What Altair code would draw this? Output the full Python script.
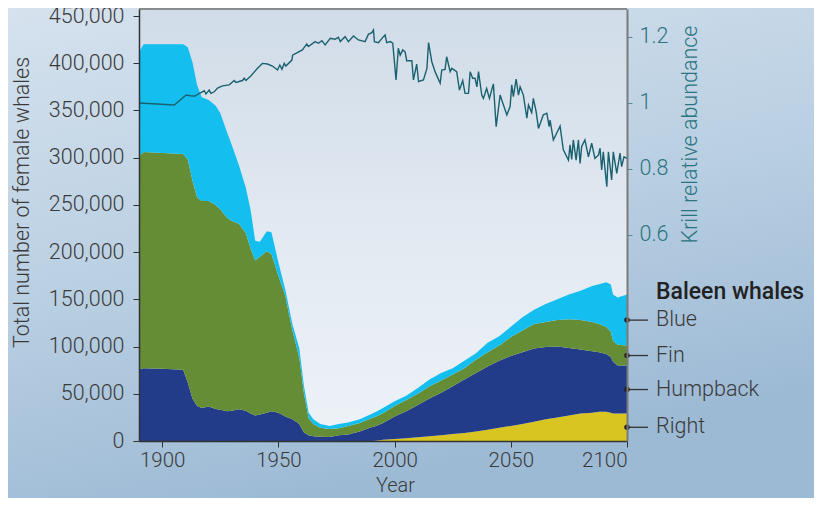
import altair as alt
import pandas as pd

# ---------------- data ----------------
years = [1890, 1892, 1900, 1909, 1911, 1913, 1915, 1917, 1920, 1923, 1925, 1928, 1930,
         1933, 1936, 1938, 1940, 1942, 1945, 1947, 1950, 1953, 1956, 1959, 1961, 1963,
         1965, 1968, 1972, 1976, 1980, 1985, 1990, 1992, 1995, 2000, 2005, 2010, 2015,
         2020, 2025, 2030, 2035, 2040, 2045, 2050, 2055, 2060, 2065, 2070, 2075, 2080,
         2085, 2088, 2091, 2093, 2094, 2096, 2100]
right = [0, 0, 0, 0, 0, 0, 0, 0, 0, 0, 0, 0, 0,
         0, 0, 0, 0, 0, 0, 0, 0, 0, 0, 0, 0, 0,
         0, 0, 0, 0, 0, 0, 0, 300, 1200, 2000, 3000, 4000, 5000,
         6000, 7500, 8500, 10000, 12000, 14000, 16000, 18000, 20500, 23000, 25000, 27000, 29000,
         30000, 31000, 31000, 30000, 29000, 29000, 29000]
humpback = [76000, 77000, 76500, 75500, 62000, 45000, 37000, 35000, 36500, 34000, 33000, 31500, 32000,
            33500, 32000, 29000, 27000, 28000, 30000, 31500, 30000, 26000, 23000, 18000, 9000, 6000,
            5000, 4500, 4200, 6000, 7000, 10000, 14500, 15700, 17800, 24000, 28500, 34000, 40000,
            45000, 50500, 56500, 62000, 67000, 71000, 74000, 76000, 77500, 76500, 75000, 71500, 68000,
            65000, 63000, 61000, 59000, 55000, 51000, 51000]
fin = [225000, 229000, 228500, 228500, 236000, 231000, 221000, 219000, 217500, 216000, 212000, 204500, 201000,
       196500, 188000, 175000, 164000, 167000, 171000, 166500, 145000, 127000, 94000, 70000, 41000, 18000,
       13000, 9500, 8400, 7500, 9000, 9000, 9500, 10000, 10500, 11000, 12000, 12000, 13000,
       13000, 12500, 12000, 14000, 15000, 16000, 20000, 23000, 26000, 26500, 28000, 30500, 31000,
       31000, 30000, 29000, 27000, 22000, 22000, 21000]
blue = [111000, 114000, 115000, 116000, 119000, 125000, 119000, 110000, 107000, 105000, 102000, 90000, 80000,
        62000, 48000, 41000, 21000, 16000, 21000, 23000, 14000, 7000, 7000, 10000, 8000, 6000,
        5000, 4000, 3400, 4500, 3500, 4000, 4500, 5000, 5500, 5000, 4500, 6000, 7000,
        8000, 6500, 8000, 7000, 10000, 10000, 11000, 14000, 15000, 19000, 22000, 26000, 31000,
        38000, 42000, 47000, 50000, 49000, 50000, 54000]

krill_years = [1890, 1905.2, 1910.3, 1912, 1914, 1916, 1918.1, 1918.8, 1920.2, 1920.9, 1922.4, 1923.8,
               1925.9, 1928.8, 1931, 1931.7, 1934.5, 1935.3, 1936, 1938.1, 1941, 1943.1, 1945.3, 1947.4,
               1949.6, 1950.6, 1951.5, 1952.5, 1953.2, 1955.8, 1956.1, 1960.3, 1962.2, 1962.9, 1965.8,
               1967.2, 1968.7, 1970.1, 1972.3, 1974.4, 1975.8, 1976.6, 1978.7, 1980.1, 1982.3, 1984.4,
               1987.3, 1988.7, 1990.2, 1990.9, 1991.3, 1993.0, 1995.2, 1995.9, 1996.6, 1998.1, 1999.2,
               2000.6, 2001.6, 2002.4, 2003.5, 2004.5, 2005.2, 2007.4, 2008.1, 2009.5, 2010.3, 2012.4,
               2013.9, 2014.6, 2016.0, 2017.4, 2019.6, 2020.3, 2021.7, 2022.4, 2023.9, 2024.6, 2026.7,
               2027.9, 2029.3, 2030.3, 2031.8, 2032.5, 2033.6, 2034.6, 2035.4, 2036.1, 2037.5, 2038.2,
               2039.6, 2040.8, 2042.5, 2043.7, 2045.4, 2046.1, 2048.3, 2049.7, 2050.4, 2051.1, 2052.3,
               2053.3, 2054.0, 2055.4, 2056.9, 2057.6, 2059.0, 2059.7, 2060.9, 2061.9, 2064.0, 2065.5,
               2066.5, 2066.9, 2068.3, 2071.2, 2072.6, 2074.8, 2075.5, 2076.2, 2076.9, 2078.1, 2079.1,
               2079.8, 2080.5, 2081.9, 2083.4, 2084.8, 2086.2, 2087.7, 2088.4, 2089.1, 2089.8, 2091.3,
               2092.0, 2093.4, 2094.1, 2095.6, 2097.0, 2097.7, 2098.7, 2100]
krill_values = [1.000, 0.994, 1.024, 1.022, 1.021, 1.029, 1.037, 1.027, 1.039, 1.029, 1.034, 1.045,
                1.052, 1.055, 1.068, 1.062, 1.068, 1.075, 1.068, 1.082, 1.105, 1.120, 1.118, 1.112,
                1.100, 1.115, 1.102, 1.120, 1.112, 1.130, 1.145, 1.161, 1.179, 1.171, 1.186,
                1.181, 1.189, 1.176, 1.196, 1.193, 1.199, 1.186, 1.201, 1.186, 1.203, 1.191,
                1.186, 1.208, 1.213, 1.221, 1.186, 1.183, 1.201, 1.206, 1.183, 1.186, 1.181,
                1.070, 1.166, 1.145, 1.161, 1.155, 1.128, 1.128, 1.070, 1.118, 1.065, 1.070,
                1.105, 1.183, 1.125, 1.095, 1.060, 1.100, 1.102, 1.140, 1.095, 1.105, 1.095,
                1.039, 1.068, 1.029, 1.029, 1.095, 1.075, 1.075, 1.049, 1.095, 1.024, 1.014,
                1.044, 1.014, 1.058, 0.928, 1.024, 1.009, 0.964, 0.989, 1.055, 1.019, 1.072,
                1.024, 1.049, 1.024, 0.954, 0.994, 0.971, 1.014, 0.974, 0.923, 0.964, 0.969,
                0.928, 0.948, 0.888, 0.930, 0.858, 0.827, 0.873, 0.829, 0.888, 0.827, 0.888,
                0.817, 0.868, 0.888, 0.837, 0.878, 0.832, 0.842, 0.863, 0.797, 0.852, 0.746,
                0.852, 0.767, 0.852, 0.787, 0.848, 0.807, 0.837, 0.832]

species = ["Right", "Humpback", "Fin", "Blue"]
species_colors = ["#d9c521", "#233c8a", "#658d35", "#14bff0"]
x_ticks = [1900, 1950, 2000, 2050, 2100]
y_ticks = [0, 50000, 100000, 150000, 200000, 250000, 300000, 350000, 400000, 450000]
krill_ticks = [0.6, 0.8, 1.0, 1.2]

# ---------------- tables ----------------
series = {"Right": right, "Humpback": humpback, "Fin": fin, "Blue": blue}
rows = []
for i, sp in enumerate(species):
    for yr, v in zip(years, series[sp]):
        rows.append({"year": yr, "value": v, "species": sp, "ord": i})
whales = pd.DataFrame(rows)
krill = pd.DataFrame({"year": krill_years, "krill": krill_values})

# legend anchors: middle of each band at the last year
cum = 0
leg_rows = []
for sp in species:
    v = series[sp][-1]
    leg_rows.append({"year": years[-1], "mid": cum + v / 2, "species": sp})
    cum += v
legend_df = pd.DataFrame(leg_rows)

# ---------------- styles ----------------
W, H = 488, 432
PAD = {"left": 131, "top": 1, "right": 187, "bottom": 57}
FONT = "Roboto"
FS = 21.5
TXT = "#3a3a3a"
TEAL_TXT = "#2b7480"
KRILL = "#1a6170"

xscale = alt.Scale(domain=[1890, 2100], nice=False, zero=False)
yscale = alt.Scale(domain=[0, 457412], nice=False)
kscale = alt.Scale(domain=[-0.0243, 1.2848], nice=False, zero=False)

xaxis = alt.Axis(values=x_ticks, format="d", title="Year", grid=False, zindex=2,
                 labelFontSize=20.5, titleFontSize=20, labelFont=FONT, titleFont=FONT,
                 labelFontWeight=300, titleFontWeight=300, labelColor=TXT, titleColor=TXT,
                 tickSize=6, tickColor="#333333", domainColor="#333333", domainWidth=1.5,
                 labelPadding=3, titleX=256, titleY=44, titleBaseline="middle",
                 titleAlign="center")
yaxis = alt.Axis(values=y_ticks, format=",d", title="Total number of female whales",
                 grid=False, zindex=2, labelFontSize=FS, titleFontSize=FS, labelFont=FONT,
                 titleFont=FONT, labelFontWeight=300, titleFontWeight=300,
                 labelColor=TXT, titleColor=TXT, tickSize=6, tickColor="#333333",
                 domainColor="#333333", domainWidth=1.5, labelPadding=9,
                 titleAngle=270, titleX=-117, titleY=193, titleBaseline="middle",
                 titleAlign="center")
kaxis = alt.Axis(values=krill_ticks, format=".1~f", title="Krill relative abundance",
                 orient="right", grid=False, zindex=2, labelFontSize=FS, titleFontSize=FS,
                 labelFont=FONT, titleFont=FONT, labelFontWeight=300, titleFontWeight=300,
                 labelColor=TEAL_TXT, titleColor=TEAL_TXT, tickSize=5, tickColor="#5c8a92",
                 domainColor="#7a7a7a", domainWidth=2, labelPadding=7,
                 titleAngle=270, titleX=63, titleY=125, titleBaseline="middle",
                 titleAlign="center")

xenc = alt.X("year:Q", scale=xscale, axis=xaxis)

outer_grad = alt.LinearGradient(
    gradient="linear", x1=0, y1=0, x2=0.35, y2=1,
    stops=[alt.GradientStop(color="#d6e2ee", offset=0),
           alt.GradientStop(color="#b9cfe2", offset=0.55),
           alt.GradientStop(color="#9dbad5", offset=1)])
plot_grad = alt.LinearGradient(
    gradient="linear", x1=0, y1=0, x2=0, y2=1,
    stops=[alt.GradientStop(color="#d0dce8", offset=0),
           alt.GradientStop(color="#e3eaf2", offset=0.55),
           alt.GradientStop(color="#edf2f7", offset=1)])

one = pd.DataFrame({"k": [0]})

bg_outer = alt.Chart(one).mark_rect(fill=outer_grad).encode(
    x=alt.value(-PAD["left"]), x2=alt.value(W + PAD["right"]),
    y=alt.value(-PAD["top"]), y2=alt.value(H + PAD["bottom"]))
bg_plot = alt.Chart(one).mark_rect(fill=plot_grad).encode(
    x=alt.value(0), x2=alt.value(W), y=alt.value(0), y2=alt.value(H))
top_border = alt.Chart(one).mark_rule(color="#6f6f6f", strokeWidth=1.5).encode(
    x=alt.value(0), x2=alt.value(W), y=alt.value(0))

areas = alt.Chart(whales).mark_area(interpolate="linear").encode(
    x=xenc,
    y=alt.Y("value:Q", stack="zero", scale=yscale, axis=yaxis),
    color=alt.Color("species:N", scale=alt.Scale(domain=species, range=species_colors),
                    legend=None),
    order=alt.Order("ord:Q", sort="ascending"),
)

krill_line = alt.Chart(krill).mark_line(color=KRILL, strokeWidth=1.4).encode(
    x=xenc,
    y=alt.Y("krill:Q", scale=kscale, axis=kaxis),
)

leg_rules = alt.Chart(legend_df).mark_rule(color="#333333", strokeWidth=1.3).encode(
    x=xenc, x2=alt.value(W + 21),
    y=alt.Y("mid:Q", scale=yscale, axis=None))
leg_dots = alt.Chart(legend_df).mark_circle(size=30, color="#222222", opacity=1).encode(
    x=xenc, y=alt.Y("mid:Q", scale=yscale, axis=None))
leg_text = alt.Chart(legend_df).mark_text(
    align="left", baseline="middle", dx=29, fontSize=FS, font=FONT, fontWeight=300,
    color=TXT).encode(
    x=xenc, y=alt.Y("mid:Q", scale=yscale, axis=None), text="species:N")
leg_title = alt.Chart(one).mark_text(
    text="Baleen whales", align="left", baseline="middle", fontSize=23, font=FONT,
    fontWeight=500, color="#222222").encode(
    x=alt.value(W + 29), y=alt.value(283))

chart = alt.layer(
    bg_outer, bg_plot, top_border, areas, krill_line, leg_rules, leg_dots, leg_text, leg_title
).resolve_scale(y="independent").properties(
    width=W, height=H, padding=PAD, autosize=alt.AutoSizeParams(type="none"),
    background="#b8cee1",
).configure_view(strokeWidth=0).configure(font=FONT)

chart.save("out.html", embed_options={"renderer": "svg", "actions": False})
